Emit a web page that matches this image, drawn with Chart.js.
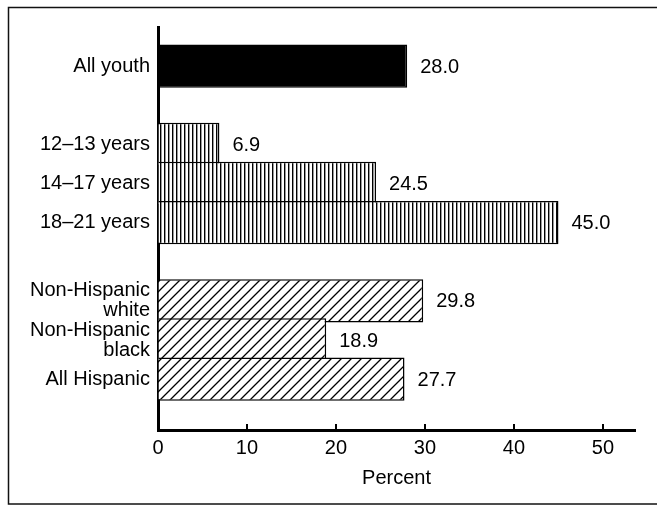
<!DOCTYPE html>
<html>
<head>
<meta charset="utf-8">
<script src="https://cdn.jsdelivr.net/npm/chart.js@4.4.0/dist/chart.umd.min.js"></script>
<style>
  html, body { margin: 0; padding: 0; background: #fff; }
  #wrap { width: 657px; height: 506px; }
</style>
</head>
<body>
<div id="wrap"><canvas id="myChart" width="657" height="506"></canvas></div>
<script>
// values
const overallLabel = "All youth";
const overallValue = 28.0;
const ageLabels = ["12–13 years", "14–17 years", "18–21 years"];
const ageValues = [6.9, 24.5, 45.0];
const raceLabels = [["Non-Hispanic", "white"], ["Non-Hispanic", "black"], "All Hispanic"];
const raceValues = [29.8, 18.9, 27.7];
const xTickValues = [0, 10, 20, 30, 40, 50];

const FONT = '"Liberation Sans", Arial, Helvetica, sans-serif';

const canvas = document.getElementById("myChart");
const ctx = canvas.getContext("2d");

// hatch fills
const makePattern = (w, h, draw) => {
  const c = document.createElement("canvas");
  c.width = w;
  c.height = h;
  const g = c.getContext("2d");
  g.fillStyle = "#fff";
  g.fillRect(0, 0, w, h);
  draw(g);
  return ctx.createPattern(c, "repeat");
};

const verticalHatch = makePattern(4, 4, (g) => {
  g.fillStyle = "#000";
  g.fillRect(0, 0, 1, 4);
  g.fillStyle = "rgba(0,0,0,0.4)";
  g.fillRect(1, 0, 1, 4);
});

const diagonalHatch = makePattern(10, 10, (g) => {
  g.strokeStyle = "#000";
  g.lineWidth = 1.3;
  g.beginPath();
  g.moveTo(0, 10); g.lineTo(10, 0);
  g.moveTo(-5, 5); g.lineTo(5, -5);
  g.moveTo(5, 15); g.lineTo(15, 5);
  g.stroke();
});

// groups separated by an empty row
const labels = [overallLabel, "", ...ageLabels, "", ...raceLabels];
const values = [overallValue, null, ...ageValues, null, ...raceValues];
const fills = [
  "#000", "rgba(0,0,0,0)",
  ...ageValues.map(() => verticalHatch), "rgba(0,0,0,0)",
  ...raceValues.map(() => diagonalHatch),
];

const framePlugin = {
  id: "frame",
  beforeDraw(chart) {
    const c = chart.ctx;
    c.save();
    c.fillStyle = "#fff";
    c.fillRect(0, 0, chart.width, chart.height);
    c.strokeStyle = "#111";
    c.lineWidth = 1.5;
    c.strokeRect(8.5, 7.5, 700, 496.5);
    c.restore();
  },
  afterDraw(chart) {
    // short tick marks pointing up from the x axis
    const c = chart.ctx;
    const xs = chart.scales.x;
    const base = chart.chartArea.bottom;
    c.save();
    c.strokeStyle = "#000";
    c.lineWidth = 2;
    xTickValues.slice(1).forEach((v) => {
      const px = Math.round(xs.getPixelForValue(v));
      c.beginPath();
      c.moveTo(px, base);
      c.lineTo(px, base - 6);
      c.stroke();
    });
    c.restore();
  },
};

const valueLabels = {
  id: "valueLabels",
  afterDatasetsDraw(chart) {
    const c = chart.ctx;
    const meta = chart.getDatasetMeta(0);
    c.save();
    c.font = "20px " + FONT;
    c.fillStyle = "#000";
    c.textAlign = "left";
    c.textBaseline = "middle";
    meta.data.forEach((bar, i) => {
      const v = values[i];
      if (v === null) return;
      c.fillText(v.toFixed(1), bar.x + 13, bar.y + 1);
    });
    c.restore();
  },
};

const myChart = new Chart(ctx, {
  type: "bar",
  data: {
    labels: labels,
    datasets: [
      {
        data: values,
        backgroundColor: fills,
        borderColor: "#000",
        borderWidth: 1.5,
        categoryPercentage: 1,
        barPercentage: 1.11,
      },
    ],
  },
  plugins: [framePlugin, valueLabels],
  options: {
    indexAxis: "y",
    responsive: false,
    animation: false,
    layout: { padding: { top: 27, right: 22, left: 0, bottom: 0 } },
    plugins: {
      legend: { display: false },
      tooltip: { enabled: false },
    },
    scales: {
      x: {
        type: "linear",
        min: 0,
        max: 53.6,
        afterFit: (scale) => { scale.height = 76; },
        afterBuildTicks: (scale) => {
          scale.ticks = xTickValues.map((v) => ({ value: v }));
        },
        ticks: {
          color: "#000",
          padding: 6,
          font: { family: FONT, size: 20 },
          callback: (v) => String(v),
        },
        grid: { drawOnChartArea: false, drawTicks: false },
        border: { display: true, color: "#000", width: 3 },
        title: {
          display: true,
          text: "Percent",
          color: "#000",
          font: { family: FONT, size: 20 },
          padding: { top: 0, bottom: 16 },
        },
      },
      y: {
        type: "category",
        offset: true,
        afterBuildTicks: (scale) => {
          // uneven spacing between groups
          scale._startValue = -1.0;
          scale._valueRange = 10.3;
        },
        afterFit: (scale) => { scale.width = 158; },
        ticks: {
          color: "#000",
          padding: 8,
          autoSkip: false,
          font: { family: FONT, size: 20, lineHeight: 1.0 },
        },
        grid: { display: true, drawOnChartArea: false, drawTicks: false },
        border: { display: true, color: "#000", width: 3 },
      },
    },
  },
});
</script>
</body>
</html>
